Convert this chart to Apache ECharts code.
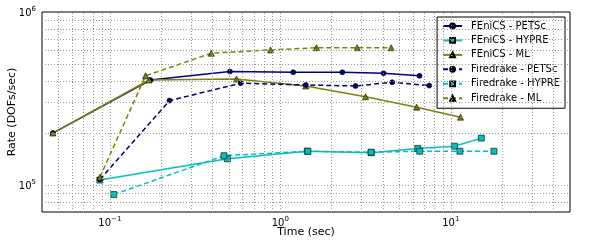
<!DOCTYPE html>
<html>
<head>
<meta charset="utf-8">
<script src="https://cdn.jsdelivr.net/npm/echarts@6/dist/echarts.min.js"></script>
<style>html,body{margin:0;padding:0;background:#fff}#c{width:600px;height:250px}</style>
</head>
<body>
<div id="c"></div>
<script>
// ---- data (time in sec, rate in DOFs/sec) ----
const fenicsPetscT = [0.0463, 0.173, 0.506, 1.19, 2.31, 4.03, 6.55];
const fenicsPetscR = [200000, 405000, 453000, 449000, 449000, 443000, 428000];
const fenicsHypreT = [0.0874, 0.489, 1.44, 3.41, 6.40, 10.5, 15.1];
const fenicsHypreR = [107000, 142000, 157000, 154000, 163000, 168000, 187000];
const fenicsMlT = [0.0463, 0.170, 0.553, 1.41, 3.16, 6.30, 11.4];
const fenicsMlR = [200000, 405000, 410000, 374000, 324000, 282000, 247000];
const fdPetscT = [0.0874, 0.224, 0.586, 1.41, 2.76, 4.53, 7.47];
const fdPetscR = [108000, 308000, 388000, 379000, 374000, 393000, 376000];
const fdHypreT = [0.1055, 0.467, 1.45, 3.41, 6.57, 11.3, 17.9];
const fdHypreR = [88300, 148000, 157000, 155000, 157000, 157000, 157000];
const fdMlT = [0.0874, 0.162, 0.394, 0.876, 1.63, 2.82, 4.47];
const fdMlR = [111000, 428000, 578000, 604000, 622000, 622000, 622000];

const seriesNames = ['FEniCS - PETSc', 'FEniCS - HYPRE', 'FEniCS - ML',
                     'Firedrake - PETSc', 'Firedrake - HYPRE', 'Firedrake - ML'];

// grid line positions (major + minor decades)
const xGridVals = [0.05,0.06,0.07,0.08,0.09,0.1,0.2,0.3,0.4,0.5,0.6,0.7,0.8,0.9,1,2,3,4,5,6,7,8,9,10,20,30,40];
const yGridVals = [80000,90000,100000,200000,300000,400000,500000,600000,700000,800000,900000];

const zip = (a, b) => a.map((v, i) => [v, b[i]]);
const isPow10 = v => Math.abs(Math.log10(v) - Math.round(Math.log10(v))) < 1e-6;
const supFmt = v => {
  if (!isPow10(v)) return '';
  const e = Math.round(Math.log10(v));
  return '{b|10}{s|' + (e < 0 ? '\u2212' + (-e) : e) + '}';
};
const richLbl = {
  b: {fontSize: 10, fontFamily: 'DejaVu Sans', color: '#000', verticalAlign: 'bottom'},
  s: {fontSize: 7, fontFamily: 'DejaVu Sans', color: '#000', verticalAlign: 'bottom', padding: [0, 0, 5, 0]}
};

const navy = '#000080', cyan = '#00bfbf', olive = '#808000';
function mk(name, t, r, color, symbol, dashed, size) {
  return {
    name, type: 'line', data: zip(t, r), symbol, symbolSize: size,
    lineStyle: {color, width: 1.5, type: dashed ? [5, 3] : 'solid'},
    itemStyle: {color, borderColor: '#000', borderWidth: 0.6},
    z: 3
  };
}

const chart = echarts.init(document.getElementById('c'), null, {renderer: 'canvas'});
chart.setOption({
  animation: false,
  backgroundColor: '#fff',
  textStyle: {fontFamily: 'DejaVu Sans'},
  grid: {left: 42, right: 30, top: 12, bottom: 38, show: true, borderColor: '#000', borderWidth: 1,
         backgroundColor: 'transparent', containLabel: false, outerBoundsMode: 'none'},
  xAxis: {
    type: 'log', logBase: 10, min: 0.04, max: 50,
    name: 'Time (sec)', nameLocation: 'middle', nameGap: 15, nameMoveOverlap: false,
    nameTextStyle: {fontSize: 11, color: '#000', fontFamily: 'DejaVu Sans'},
    axisLine: {show: false},
    axisTick: {show: false},
    splitLine: {show: false},
    axisLabel: {formatter: supFmt, rich: richLbl, margin: 4, showMinLabel: false, showMaxLabel: false}
  },
  yAxis: {
    type: 'log', logBase: 10, min: 70000, max: 1000000,
    name: 'Rate (DOFs/sec)', nameLocation: 'middle', nameGap: 24, nameRotate: 90, nameMoveOverlap: false,
    nameTextStyle: {fontSize: 11, color: '#000', fontFamily: 'DejaVu Sans'},
    axisLine: {show: false},
    axisTick: {show: false},
    splitLine: {show: false},
    axisLabel: {formatter: supFmt, rich: richLbl, margin: 6, showMinLabel: false, showMaxLabel: true}
  },
  legend: {
    orient: 'vertical', right: 35, top: 17,
    data: seriesNames,
    backgroundColor: '#fff', borderColor: '#000', borderWidth: 1, borderRadius: 0,
    padding: [4, 5, 5, 5], itemGap: 4.45, itemWidth: 19, itemHeight: 6,
    textStyle: {fontSize: 10, lineHeight: 10, color: '#000', fontFamily: 'DejaVu Sans', padding: [0, 0, 0, 4]}
  },
  series: [
    {
      name: 'grid', type: 'line', data: [], z: 1, silent: true,
      markLine: {
        silent: true, symbol: 'none', animation: false,
        label: {show: false},
        lineStyle: {color: '#999', width: 1, type: [1, 2]},
        data: xGridVals.map(v => ({xAxis: v})).concat(yGridVals.map(v => ({yAxis: v})))
      }
    },
    mk(seriesNames[0], fenicsPetscT, fenicsPetscR, navy, 'circle', false, 5),
    mk(seriesNames[1], fenicsHypreT, fenicsHypreR, cyan, 'rect', false, 6),
    mk(seriesNames[2], fenicsMlT, fenicsMlR, olive, 'triangle', false, 6),
    mk(seriesNames[3], fdPetscT, fdPetscR, navy, 'circle', true, 5),
    mk(seriesNames[4], fdHypreT, fdHypreR, cyan, 'rect', true, 6),
    mk(seriesNames[5], fdMlT, fdMlR, olive, 'triangle', true, 6)
  ]
});
</script>
</body>
</html>
